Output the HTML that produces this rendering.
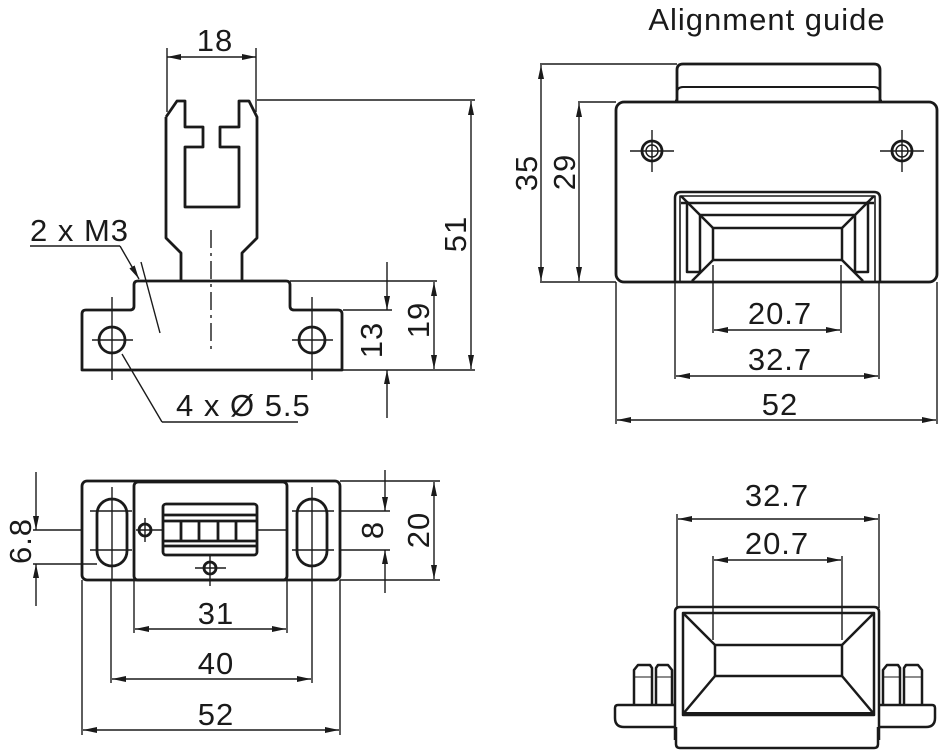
<!DOCTYPE html>
<html><head><meta charset="utf-8"><style>
html,body{margin:0;padding:0;background:#fff;}
svg{display:block;}
text{font-family:"Liberation Sans",sans-serif;font-size:31px;letter-spacing:1px;fill:#1a1a1a;}
</style></head><body>
<svg width="940" height="752" viewBox="0 0 940 752" xmlns="http://www.w3.org/2000/svg">
<defs>
<marker id="a" viewBox="0 0 14 6" refX="14" refY="3" markerWidth="14" markerHeight="6" markerUnits="userSpaceOnUse" orient="auto-start-reverse"><path d="M0,0 L14,3 L0,6 z" fill="#1a1a1a"/></marker>
</defs>
<g fill="none" stroke="#1a1a1a" stroke-width="1.4">
<line x1="167" y1="48" x2="167" y2="112"/><line x1="256" y1="48" x2="256" y2="112"/>
<line x1="167" y1="57" x2="256" y2="57" marker-start="url(#a)" marker-end="url(#a)"/>
<g stroke-width="2.8" stroke-linejoin="round">
<path d="M166,117 L177,101 L185,101 L185,127 L203,127 L203,147 L185,147 L185,207 L239,207 L239,147 L220,147 L220,127 L239,127 L239,101 L249,101 L257,117 L257,238 L242,253 L242,281 M166,117 L166,238 L181,253 L181,281"/>
<path d="M82,370 L82,314 Q82,310 86,310 L130,310 Q134,310 134,306 L134,285 Q134,281 138,281 L286,281 Q290,281 290,285 L290,306 Q290,310 294,310 L338,310 Q342,310 342,314 L342,370 Z"/>
<circle cx="112" cy="340" r="13"/><circle cx="312" cy="340" r="13"/>
</g>
<line x1="112" y1="297" x2="112" y2="380"/><line x1="92" y1="340" x2="133" y2="340"/>
<line x1="312" y1="297" x2="312" y2="380"/><line x1="292" y1="340" x2="333" y2="340"/>
<line x1="211" y1="230" x2="211" y2="350" stroke-dasharray="18,5,3,5"/>
<line x1="257" y1="100" x2="475" y2="100"/><line x1="343" y1="370" x2="475" y2="370"/>
<line x1="471" y1="101" x2="471" y2="369" marker-start="url(#a)" marker-end="url(#a)"/>
<line x1="290" y1="281" x2="437" y2="281"/>
<line x1="434" y1="282" x2="434" y2="369" marker-start="url(#a)" marker-end="url(#a)"/>
<line x1="343" y1="310" x2="392" y2="310"/>
<line x1="387" y1="262" x2="387" y2="310" marker-end="url(#a)"/>
<line x1="387" y1="418" x2="387" y2="370" marker-end="url(#a)"/>
<line x1="30" y1="246" x2="120" y2="246"/>
<line x1="120" y1="246" x2="139" y2="279" marker-end="url(#a)"/>
<line x1="141" y1="262" x2="160" y2="333"/>
<line x1="162" y1="422" x2="298" y2="422"/>
<line x1="162" y1="422" x2="122" y2="354"/>
<g stroke-width="2.8" stroke-linejoin="round">
<path d="M675,101 L677,101 L677,70 Q677,64 683,64 L874,64 Q880,64 880,70 L880,101 L882,101"/>
<path d="M677,93 Q677,87 683,87 L874,87 Q880,87 880,93" stroke-width="2"/>
<rect x="616" y="102" width="321" height="180" rx="8"/>
<circle cx="652" cy="151" r="10"/><circle cx="902" cy="151" r="10"/>
</g>
<circle cx="652" cy="151" r="6"/><circle cx="902" cy="151" r="6"/>
<line x1="652" y1="130" x2="652" y2="172"/><line x1="630" y1="151" x2="674" y2="151"/>
<line x1="902" y1="130" x2="902" y2="172"/><line x1="880" y1="151" x2="924" y2="151"/>
<g stroke-width="2.5" stroke-linejoin="round">
<path d="M675,282 L675,198 Q675,192 681,192 L874,192 Q880,192 880,198 L880,282"/>
<path d="M680,282 L680,196 L875,196 L875,282" stroke-width="1.6"/>
<line x1="681" y1="203" x2="874" y2="203"/>
<line x1="700" y1="215" x2="856" y2="215"/>
<rect x="713" y="228" width="129" height="32"/>
<path d="M687,201 L687,272 L700,272 L700,215"/>
<path d="M868,201 L868,272 L855,272 L855,215"/>
<line x1="681" y1="196" x2="713" y2="228"/><line x1="874" y1="196" x2="842" y2="228"/>
<line x1="713" y1="260" x2="692" y2="281"/><line x1="842" y1="260" x2="863" y2="281"/>
</g>
<line x1="540" y1="64" x2="677" y2="64"/><line x1="540" y1="282" x2="616" y2="282"/>
<line x1="578" y1="102" x2="616" y2="102"/>
<line x1="541" y1="65" x2="541" y2="281" marker-start="url(#a)" marker-end="url(#a)"/>
<line x1="579" y1="103" x2="579" y2="281" marker-start="url(#a)" marker-end="url(#a)"/>
<line x1="713" y1="265" x2="713" y2="333"/><line x1="841" y1="265" x2="841" y2="333"/>
<line x1="714" y1="330" x2="840" y2="330" marker-start="url(#a)" marker-end="url(#a)"/>
<line x1="675" y1="282" x2="675" y2="379"/><line x1="879" y1="282" x2="879" y2="379"/>
<line x1="676" y1="376" x2="878" y2="376" marker-start="url(#a)" marker-end="url(#a)"/>
<line x1="616" y1="282" x2="616" y2="424"/><line x1="937" y1="282" x2="937" y2="424"/>
<line x1="617" y1="420" x2="936" y2="420" marker-start="url(#a)" marker-end="url(#a)"/>
<g stroke-width="2.8" stroke-linejoin="round">
<rect x="82" y="481" width="258" height="99" rx="5"/>
<rect x="134" y="482" width="153" height="98" rx="4"/>
<rect x="97" y="499" width="30" height="67" rx="15"/>
<rect x="297" y="499" width="30" height="67" rx="15"/>
<rect x="163" y="504" width="94" height="51" rx="3"/>
<line x1="163" y1="515" x2="257" y2="515"/><line x1="163" y1="521" x2="257" y2="521"/>
<line x1="163" y1="541" x2="257" y2="541"/><line x1="163" y1="546" x2="257" y2="546"/>
<line x1="181" y1="521" x2="181" y2="541"/><line x1="199" y1="521" x2="199" y2="541"/>
<line x1="218" y1="521" x2="218" y2="541"/><line x1="236" y1="521" x2="236" y2="541"/>
<circle cx="145" cy="530" r="6"/><circle cx="210" cy="568" r="6"/>
</g>
<line x1="145" y1="518" x2="145" y2="542"/><line x1="136" y1="530" x2="163" y2="530"/>
<line x1="210" y1="556" x2="210" y2="586"/><line x1="195" y1="568" x2="226" y2="568"/>
<line x1="112" y1="487" x2="112" y2="580"/><line x1="90" y1="511" x2="132" y2="511"/><line x1="90" y1="550" x2="132" y2="550"/>
<line x1="312" y1="487" x2="312" y2="580"/><line x1="292" y1="511" x2="334" y2="511"/><line x1="292" y1="550" x2="334" y2="550"/>
<line x1="33" y1="530" x2="82" y2="530"/><line x1="33" y1="564" x2="97" y2="564"/>
<line x1="36" y1="472" x2="36" y2="530" marker-end="url(#a)"/>
<line x1="36" y1="606" x2="36" y2="564" marker-end="url(#a)"/>
<line x1="257" y1="530" x2="287" y2="530"/>
<line x1="340" y1="481" x2="440" y2="481"/><line x1="340" y1="580" x2="440" y2="580"/>
<line x1="340" y1="511" x2="390" y2="511"/><line x1="340" y1="550" x2="390" y2="550"/>
<line x1="385" y1="470" x2="385" y2="511" marker-end="url(#a)"/>
<line x1="385" y1="593" x2="385" y2="550" marker-end="url(#a)"/>
<line x1="434" y1="482" x2="434" y2="579" marker-start="url(#a)" marker-end="url(#a)"/>
<line x1="134" y1="580" x2="134" y2="633"/><line x1="287" y1="580" x2="287" y2="633"/>
<line x1="135" y1="629" x2="286" y2="629" marker-start="url(#a)" marker-end="url(#a)"/>
<line x1="111" y1="580" x2="111" y2="683"/><line x1="312" y1="580" x2="312" y2="683"/>
<line x1="112" y1="679" x2="311" y2="679" marker-start="url(#a)" marker-end="url(#a)"/>
<line x1="82" y1="580" x2="82" y2="735"/><line x1="340" y1="580" x2="340" y2="735"/>
<line x1="83" y1="730" x2="339" y2="730" marker-start="url(#a)" marker-end="url(#a)"/>
<line x1="677" y1="514" x2="677" y2="608"/><line x1="879" y1="514" x2="879" y2="608"/>
<line x1="678" y1="519" x2="878" y2="519" marker-start="url(#a)" marker-end="url(#a)"/>
<line x1="713" y1="556" x2="713" y2="640"/><line x1="842" y1="556" x2="842" y2="640"/>
<line x1="714" y1="560" x2="841" y2="560" marker-start="url(#a)" marker-end="url(#a)"/>
<g stroke-width="2.5" stroke-linejoin="round">
<path d="M675,740 L675,612 Q675,607 680,607 L874,607 Q879,607 879,612 L879,740"/>
<rect x="683" y="613" width="191" height="102"/>
<line x1="683" y1="714" x2="874" y2="714" stroke-width="4"/>
<rect x="715" y="645" width="127" height="31"/>
<line x1="683" y1="613" x2="715" y2="645"/><line x1="874" y1="613" x2="842" y2="645"/>
<line x1="683" y1="714" x2="715" y2="676"/><line x1="874" y1="714" x2="842" y2="676"/>
<path d="M675,705 L618,705 Q615,705 615,708 L615,718 Q615,727 624,727 L675,727"/>
<path d="M879,705 L932,705 Q935,705 935,708 L935,718 Q935,727 926,727 L879,727"/>
<path d="M676,727 L676,744 Q676,748 680,748 L874,748 Q878,748 878,744 L878,727"/>
<path d="M634,705 L634,670 L638,665 L650,665 L652,668 L652,705 M656,705 L656,668 L658,665 L668,665 L672,670 L672,705"/>
<path d="M883,705 L883,670 L887,665 L898,665 L900,668 L900,705 M904,705 L904,668 L906,665 L918,665 L922,670 L922,705"/>
</g>
<line x1="634" y1="677" x2="652" y2="677" stroke-width="1"/><line x1="656" y1="677" x2="672" y2="677" stroke-width="1"/>
<line x1="883" y1="677" x2="900" y2="677" stroke-width="1"/><line x1="904" y1="677" x2="922" y2="677" stroke-width="1"/>
</g>
<text x="215" y="51" text-anchor="middle">18</text>
<text x="30" y="241">2 x M3</text>
<text x="176" y="416">4 x Ø 5.5</text>
<text transform="translate(466,234) rotate(-90)" text-anchor="middle">51</text>
<text transform="translate(429,320) rotate(-90)" text-anchor="middle">19</text>
<text transform="translate(382,340) rotate(-90)" text-anchor="middle">13</text>
<text x="767" y="30" text-anchor="middle">Alignment guide</text>
<text transform="translate(537,173) rotate(-90)" text-anchor="middle">35</text>
<text transform="translate(575,172) rotate(-90)" text-anchor="middle">29</text>
<text x="780" y="324" text-anchor="middle">20.7</text>
<text x="780" y="370" text-anchor="middle">32.7</text>
<text x="780" y="415" text-anchor="middle">52</text>
<text transform="translate(31,541) rotate(-90)" text-anchor="middle">6.8</text>
<text transform="translate(383,530) rotate(-90)" text-anchor="middle">8</text>
<text transform="translate(429,530) rotate(-90)" text-anchor="middle">20</text>
<text x="216" y="624" text-anchor="middle">31</text>
<text x="216" y="674" text-anchor="middle">40</text>
<text x="216" y="725" text-anchor="middle">52</text>
<text x="777" y="506" text-anchor="middle">32.7</text>
<text x="777" y="554" text-anchor="middle">20.7</text>
</svg>
</body></html>
